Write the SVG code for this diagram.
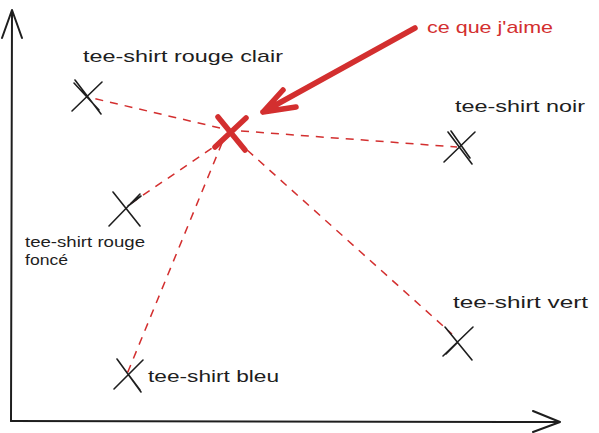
<svg xmlns="http://www.w3.org/2000/svg" width="599" height="433" viewBox="0 0 599 433">
<style>
.bg{fill:#ffffff}
.ax{stroke:#1e1e1e;stroke-width:2;fill:none;stroke-linecap:round;stroke-linejoin:round}
.mk{stroke:#1e1e1e;stroke-width:1.6;fill:none;stroke-linecap:round}
.dash{stroke:#d32f2f;stroke-width:1.5;fill:none;stroke-dasharray:8 7}
.red{stroke:#d32f2f;stroke-width:5.5;fill:none;stroke-linecap:round;stroke-linejoin:round}
.lbl{font-family:"Liberation Sans","DejaVu Sans",sans-serif;font-size:17px;fill:#1e1e1e}
.sm{font-size:14px}
.rt{fill:#d32f2f}
</style>
<rect class="bg" x="0" y="0" width="599" height="433"/>
<g id="axes">
<path class="ax" d="M11,421 L12,10 M2,38 L12,10 L22,38"/>
<path class="ax" d="M11,421 L560,422 M533,411 L560,422 L533,432"/>
</g>
<g id="connectors">
<line class="dash" x1="220" y1="128" x2="92" y2="98"/>
<line class="dash" x1="241" y1="131" x2="457" y2="147"/>
<line class="dash" x1="224" y1="140" x2="130" y2="204"/>
<line class="dash" x1="222" y1="143" x2="127" y2="374"/>
<line class="dash" x1="236" y1="140" x2="452" y2="334"/>
</g>
<g id="liked">
<path class="red" d="M218,117 L245,150 M246,118 L215,147"/>
<path class="red" d="M415,28 L263,112 M283,90 L263,112 L296,107"/>
<text class="lbl rt" x="427" y="33" textLength="126" lengthAdjust="spacingAndGlyphs">ce que j'aime</text>
</g>
<g id="rouge-clair">
<path class="mk" d="M75,80 L101,114 M72,111 L102,82 M74,83 L99,110"/>
<text class="lbl" x="83" y="62" textLength="200" lengthAdjust="spacingAndGlyphs">tee-shirt rouge clair</text>
</g>
<g id="noir">
<path class="mk" d="M448,132 L472,164 M475,132 L444,162 M451,131 L470,158"/>
<text class="lbl" x="455" y="112" textLength="130" lengthAdjust="spacingAndGlyphs">tee-shirt noir</text>
</g>
<g id="rouge-fonce">
<path class="mk" d="M113,192 L140,226 M109,226 L140,194 M128,206 L141,196"/>
<text class="lbl sm" x="25" y="247" textLength="120" lengthAdjust="spacingAndGlyphs">tee-shirt rouge</text>
<text class="lbl sm" x="25" y="265" textLength="43" lengthAdjust="spacingAndGlyphs">foncé</text>
</g>
<g id="bleu">
<path class="mk" d="M117,359 L141,392 M143,360 L114,389 M128,374 L140,390"/>
<text class="lbl" x="148" y="382" textLength="131" lengthAdjust="spacingAndGlyphs">tee-shirt bleu</text>
</g>
<g id="vert">
<path class="mk" d="M445,327 L472,360 M473,327 L443,356 M446,354 L457,343"/>
<text class="lbl" x="453" y="308" textLength="135" lengthAdjust="spacingAndGlyphs">tee-shirt vert</text>
</g>
</svg>
